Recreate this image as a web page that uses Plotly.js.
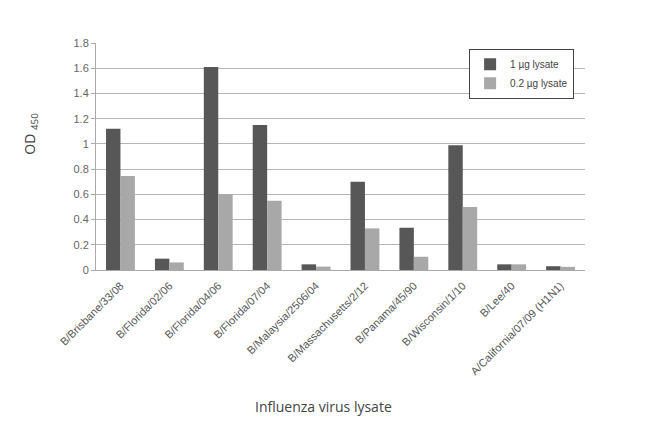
<!DOCTYPE html>
<html><head><meta charset="utf-8">
<script src="https://cdn.plot.ly/plotly-3.0.1.min.js"></script>
<style>html,body{margin:0;padding:0;background:#fff;}#chart{width:650px;height:427px;}</style>
</head><body><div id="chart"></div>
<script>
const categories = ["B/Brisbane/33/08","B/Florida/02/06","B/Florida/04/06","B/Florida/07/04","B/Malaysia/2506/04","B/Massachusetts/2/12","B/Panama/45/90","B/Wisconsin/1/10","B/Lee/40","A/California/07/09 (H1N1)"];
const lysate1ug = [1.12, 0.09, 1.61, 1.15, 0.045, 0.70, 0.335, 0.99, 0.045, 0.03];
const lysate02ug = [0.745, 0.06, 0.60, 0.55, 0.027, 0.33, 0.105, 0.50, 0.045, 0.025];
const yTicks = [0, 0.2, 0.4, 0.6, 0.8, 1, 1.2, 1.4, 1.6, 1.8];
const yTickText = ["0","0.2","0.4","0.6","0.8","1","1.2","1.4","1.6","1.8"];
const xTitle = "Influenza virus lysate";
const yTitle = "OD <sub>450</sub>";

const data = [
  {type:"bar", name:"1 µg lysate", x:categories, y:lysate1ug, marker:{color:"#575757"}},
  {type:"bar", name:"0.2 µg lysate", x:categories, y:lysate02ug, marker:{color:"#a8a8a8"}}
];
const layout = {
  width:650, height:427,
  margin:{l:96, r:65, t:43, b:157},
  paper_bgcolor:"#fff", plot_bgcolor:"#fff",
  font:{family:"Liberation Sans, Arial, sans-serif", color:"#555"},
  barmode:"group", bargap:0.41, bargroupgap:0,
  showlegend:true,
  legend:{x:0.763, y:0.975, xanchor:"left", yanchor:"top", bgcolor:"#fff", bordercolor:"#444", borderwidth:1, font:{size:10, color:"#444"}, tracegroupgap:0, itemwidth:30},
  xaxis:{type:"category", tickangle:-45, tickfont:{size:11, color:"#555"}, ticklabelstandoff:4, showline:true, linecolor:"#aaa", ticks:"", showgrid:false},
  yaxis:{range:[0,1.8], tickvals:yTicks, ticktext:yTickText, tickfont:{size:11, color:"#666"}, showgrid:true, gridcolor:"#b5b5b5", gridwidth:1,
    showline:true, linecolor:"#aaa", ticks:"outside", ticklen:4, tickcolor:"#aaa", zeroline:false},
  annotations:[
    {text:xTitle, xref:"paper", yref:"paper", x:0.466, y:-0.603, xanchor:"center", yanchor:"middle", showarrow:false, font:{family:"Open Sans, sans-serif", size:14, color:"#444"}},
    {text:yTitle, xref:"paper", yref:"paper", x:-0.133, y:0.6, xanchor:"center", yanchor:"middle", textangle:-90, showarrow:false, font:{family:"Open Sans, sans-serif", size:14, color:"#444"}}
  ]
};
Plotly.newPlot("chart", data, layout, {displayModeBar:false, staticPlot:true});
</script></body></html>
